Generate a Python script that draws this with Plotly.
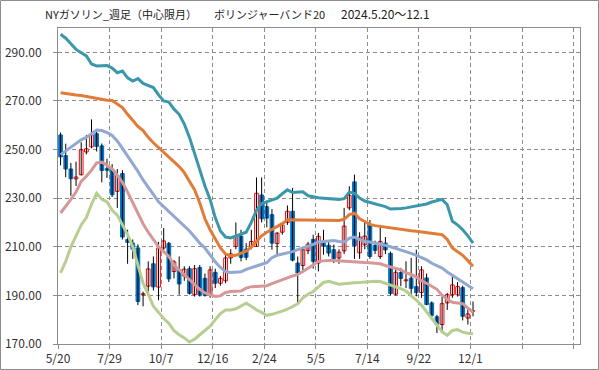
import plotly.graph_objects as go

# ---- data (weekly, 2024-05-20 ... 2025-12-01) ----
weeks = list(range(81))
opens = [256, 247.5, 242, 237.9, 239.6, 249, 251.1, 256.5, 251.5, 242.1,
         241.8, 232.8, 240.1, 213, 211.5, 209.5, 190.2, 193.8, 203, 193.4,
         209.5, 211.4, 199.8, 200.7, 198, 201, 190.3, 201.5, 197, 190.5,
         199.5, 195, 196, 205.4, 210.1, 214.4, 209, 210, 210.1, 231.3,
         226.5, 223.2, 211.3, 216, 220, 224.6, 203.3, 202.3, 208.4, 213,
         203.3, 211.5, 210.6, 208.8, 205.4, 208.3, 226, 236.7, 207.5, 210.8,
         219, 210.5, 206, 211.5, 207.3, 190.5, 199.4, 196, 197.1, 193.6,
         191.2, 197.2, 186.9, 181.2, 178, 186.9, 190.3, 190.3, 193.2, 180.7,
         183.5]
highs = [257, 252.4, 244.5, 245, 253, 256, 262.4, 257.5, 252.5, 246.2,
         244, 242, 241.5, 217, 213, 211, 191.5, 204, 206, 212,
         217.7, 212, 204.5, 206, 202, 202, 202.5, 202.5, 199, 202,
         201, 198, 207, 209, 220, 217, 211.5, 217, 238.5, 238.5,
         228, 225.5, 216, 220, 227, 234.2, 206, 210, 212, 215,
         215.7, 217, 212, 210.9, 209, 226, 234.9, 239.7, 216, 220,
         221, 212.5, 219, 214, 208, 201, 201.3, 204, 205.4, 208.8,
         202, 199, 187.5, 182, 190, 191, 198.2, 195.5, 194, 184.4,
         187.5]
lows = [243.5, 238.6, 231, 235, 239.4, 248, 250.5, 249.2, 236.5, 238.3,
        230.5, 226, 213, 203, 205, 186, 185.5, 191.5, 192, 188,
        208.5, 195.5, 197, 190.3, 196, 190.3, 189.5, 189.5, 189.5, 189,
        193, 194, 195, 203, 209, 204, 204.5, 209, 210, 220,
        218, 208.8, 206.7, 215, 219, 204, 186.8, 200, 207, 201,
        199.9, 206.7, 206, 203.3, 203, 207, 225, 205, 205, 209,
        205, 207, 205, 207, 190, 190, 193.8, 193, 189.6, 189.6,
        189, 186, 181, 174.5, 174.6, 184, 189, 189.5, 179.7, 178,
        181.4]
closes = [247, 242, 238, 238.7, 249.9, 250.3, 256, 251.3, 241.4, 241.5,
          231.4, 239.3, 214, 211.8, 209, 187.5, 190.7, 200.9, 193.5, 209.5,
          212.4, 196.8, 203.8, 194.7, 200.8, 190.8, 201, 190.2, 190, 200.5,
          195, 197, 205.4, 207.1, 214.2, 205.6, 205.7, 212.2, 232, 221.5,
          221.8, 211.5, 215.6, 219, 224.6, 204.5, 199.2, 208.8, 211.1, 204,
          214.3, 210.2, 207.4, 205.1, 207.8, 218.5, 231.2, 210.5, 214, 214.4,
          206, 208.5, 212.2, 208.7, 190.8, 199.5, 197, 196.4, 192.9, 191.1,
          200.5, 186.2, 181.8, 178, 186.6, 190.3, 194.3, 193.6, 181.4, 182.4,
          183.6]

upper2 = [297.4, 295.8, 293.5, 291.2, 289.8, 288.5, 285.2, 284.4, 284.5, 284.6,
          283.5, 281.6, 282.3, 279.5, 278.2, 279.2, 277.2, 276.5, 275.5, 272.5,
          270, 269.5, 266.6, 264.5, 260.5, 255, 248.5, 242, 235, 229.5,
          222, 216.5, 214, 213.6, 214.5, 215.3, 216, 220, 225, 227.8,
          228.6, 229.3, 230, 231.8, 233.4, 232.3, 232.5, 232.6, 231, 230.5,
          230.2, 230, 229.8, 229.6, 229.5, 229.8, 232.5, 232, 230, 228.8,
          228.2, 227.7, 227.2, 226.5, 225.5, 225.5, 225.7, 226, 226.4, 226.8,
          227.1, 227.6, 228.4, 229, 229.5, 227.3, 220.5, 219, 217, 214.5,
          211.5]
upper1 = [273.4, 273, 272.6, 272.4, 272.2, 271.8, 271.2, 270.9, 270.5, 270.3,
          270.2, 268.8, 267.3, 264.5, 262, 259.5, 257.8, 255, 252.8, 250.8,
          248.6, 247, 245, 243, 240.5, 237.1, 233.4, 228, 221.5, 217,
          213, 209.5, 207, 206.3, 206.5, 207.3, 208.2, 209.8, 212.2, 214.5,
          216, 217.2, 218.4, 219.5, 221.1, 221.1, 221, 221, 221, 221,
          220.9, 220.9, 220.8, 220.8, 220.8, 221.3, 223.2, 223.8, 221.5, 220.4,
          219.2, 218.7, 218.4, 218, 217.7, 217.2, 217, 216.8, 216.6, 216.4,
          216.2, 216, 215.7, 215.3, 215, 213, 209.5, 208, 206.5, 204.3,
          202]
middle = [247.9, 249.5, 251, 252.5, 254, 255, 256.5, 258, 257.8, 257,
          255.8, 253.5, 250.5, 247.5, 244.5, 241, 237.5, 234.5, 231.5, 228.5,
          226.5, 224.5, 222.5, 220.5, 218.6, 216.5, 214, 211.5, 209.5, 206.5,
          203.8, 201.5, 199.8, 199.4, 199.5, 199.7, 200.7, 201.5, 202, 202.8,
          203.5, 205.5, 206.5, 207, 207.2, 208, 208.8, 209.5, 210.5, 211,
          212, 212.3, 212.5, 212.6, 212.2, 212, 213.5, 214, 213, 212.2,
          212, 211.6, 211.2, 210.6, 210, 209.4, 208.7, 208, 207.3, 206.5,
          205.6, 204.6, 203.2, 202.2, 201.2, 199.6, 198.2, 197, 195.5, 194.2,
          192.7]
lower1 = [223.9, 226.5, 229.5, 232.5, 236.9, 239, 241.5, 244.5, 244.8, 243.5,
          242, 239.5, 236.5, 232.5, 228, 223.5, 219.5, 216, 213, 210,
          208, 206, 202.5, 200.5, 198.5, 196.3, 194.3, 192.5, 191, 190.3,
          189.6, 189.8, 191.2, 191.6, 191.6, 191.8, 193, 193.6, 193.7, 193.7,
          194, 194.8, 195.5, 196.5, 197.2, 198, 198.6, 199.8, 201, 202.5,
          204, 204.3, 204.4, 204.4, 204.2, 204, 204, 203.8, 203.6, 203.5,
          203.4, 203.3, 203, 202.3, 201.8, 201, 200.5, 199.3, 198.6, 197.5,
          196, 195, 193.8, 192.5, 190, 188.4, 187.2, 186.8, 186.6, 184.8,
          183]
lower2 = [199.3, 204, 210, 214.5, 219, 222, 227.5, 232, 229.5, 228.5,
          225, 223, 219, 215, 210, 202, 195, 190.5, 185.5, 183,
          180.5, 178.5, 175.5, 173.8, 172.5, 170.8, 172, 173.8, 175.5, 177.3,
          180, 182.5, 184, 184, 184.5, 185.8, 186.8, 185.5, 184, 183,
          181.8, 182.2, 182.7, 183.5, 184.3, 185.3, 186.5, 189, 190.5, 191.6,
          193.3, 195.3, 195.8, 195.2, 194.6, 194.8, 195.1, 195.2, 195.3, 195.5,
          195.8, 195.8, 195.7, 195, 194.3, 193.3, 192.8, 191.8, 190, 188,
          186, 183, 180.5, 177.8, 175, 173.6, 175.6, 175.9, 174.9, 174.4,
          174.2]

x_tick_pos = [0, 10, 20, 30, 40, 50, 60, 70, 80, 90, 100]
x_tick_labels = ["5/20", "7/29", "10/7", "12/16", "2/24", "5/5", "7/14", "9/22", "12/1", "", ""]
y_ticks = [170, 190, 210, 230, 250, 270, 290]

title_parts = ["NYガソリン_週足（中心限月）", "ボリンジャーバンド20", "2024.5.20～12.1"]

# ---- figure ----
xc = [w + 0.5 for w in weeks]

wx, wy = [], []
for x, h, l in zip(xc, highs, lows):
    wx += [x, x, None]
    wy += [l, h, None]

UP_LINE = "#FF0000"
DOWN = "#0070C0"
body_base = [min(o, c) for o, c in zip(opens, closes)]
body_h = [max(abs(c - o), 0.15) for o, c in zip(opens, closes)]
fill = ["#FFFFFF" if c >= o else DOWN for o, c in zip(opens, closes)]
edge = [UP_LINE if c >= o else DOWN for o, c in zip(opens, closes)]

fig = go.Figure()
fig.add_trace(go.Scatter(x=wx, y=wy, mode="lines",
                         line=dict(color="#000000", width=1),
                         hoverinfo="skip", showlegend=False))
fig.add_trace(go.Bar(x=xc, y=body_h, base=body_base, width=0.72,
                     marker=dict(color=fill, line=dict(color=edge, width=1)),
                     showlegend=False))

band_styles = [
    (upper2, "#3C97AB"),
    (upper1, "#E07C38"),
    (middle, "#93A8D0"),
    (lower1, "#D59797"),
    (lower2, "#B7CE92"),
]
for vals, col in band_styles:
    fig.add_trace(go.Scatter(x=xc, y=vals, mode="lines",
                             line=dict(color=col, width=3),
                             showlegend=False))

L, R, T, B = 58, 19, 28, 26
W, H = 599, 370
pw, ph = W - L - R, H - T - B

axis_common = dict(
    showgrid=True, gridcolor="#8C8C8C", gridwidth=1, griddash="4px,3px",
    showline=True, linecolor="#8C8C8C", linewidth=1, mirror=True,
    ticks="outside", ticklen=4, tickcolor="#8C8C8C",
    tickfont=dict(family="Noto Sans CJK JP", size=12, color="#333333"),
    zeroline=False, automargin=False,
)

fig.update_layout(
    width=W, height=H,
    margin=dict(l=L, r=R, t=T, b=B, autoexpand=False),
    paper_bgcolor="#FFFFFF", plot_bgcolor="#FFFFFF",
    barmode="overlay", showlegend=False,
    xaxis=dict(range=[0, 101.25], tickmode="array", tickvals=x_tick_pos,
               ticktext=x_tick_labels, **axis_common),
    yaxis=dict(range=[170, 300], tickmode="array", tickvals=y_ticks,
               tickformat=".2f", ticklabelstandoff=9, **axis_common),
)

# outer chart border
fig.add_shape(type="rect", xref="paper", yref="paper",
              x0=(0.5 - L) / pw, x1=(W - 0.5 - L) / pw,
              y0=(H - B - (H - 0.5)) / ph, y1=(H - B - 0.5) / ph,
              line=dict(color="#8C8C8C", width=1), fillcolor="rgba(0,0,0,0)")

title_x = [43, 212, 339]
title_sizes = [11, 11, 12]
for txt, px, fs in zip(title_parts, title_x, title_sizes):
    fig.add_annotation(text=txt, xref="paper", yref="paper",
                       x=(px - L) / pw, y=(H - B - 14) / ph,
                       xanchor="left", yanchor="middle", showarrow=False,
                       font=dict(family="Noto Sans CJK JP", size=fs, color="#222222"))

fig.write_html("out.html",
               config={"displayModeBar": False},
               post_script="document.body.style.margin='0';document.body.style.overflow='hidden';")
